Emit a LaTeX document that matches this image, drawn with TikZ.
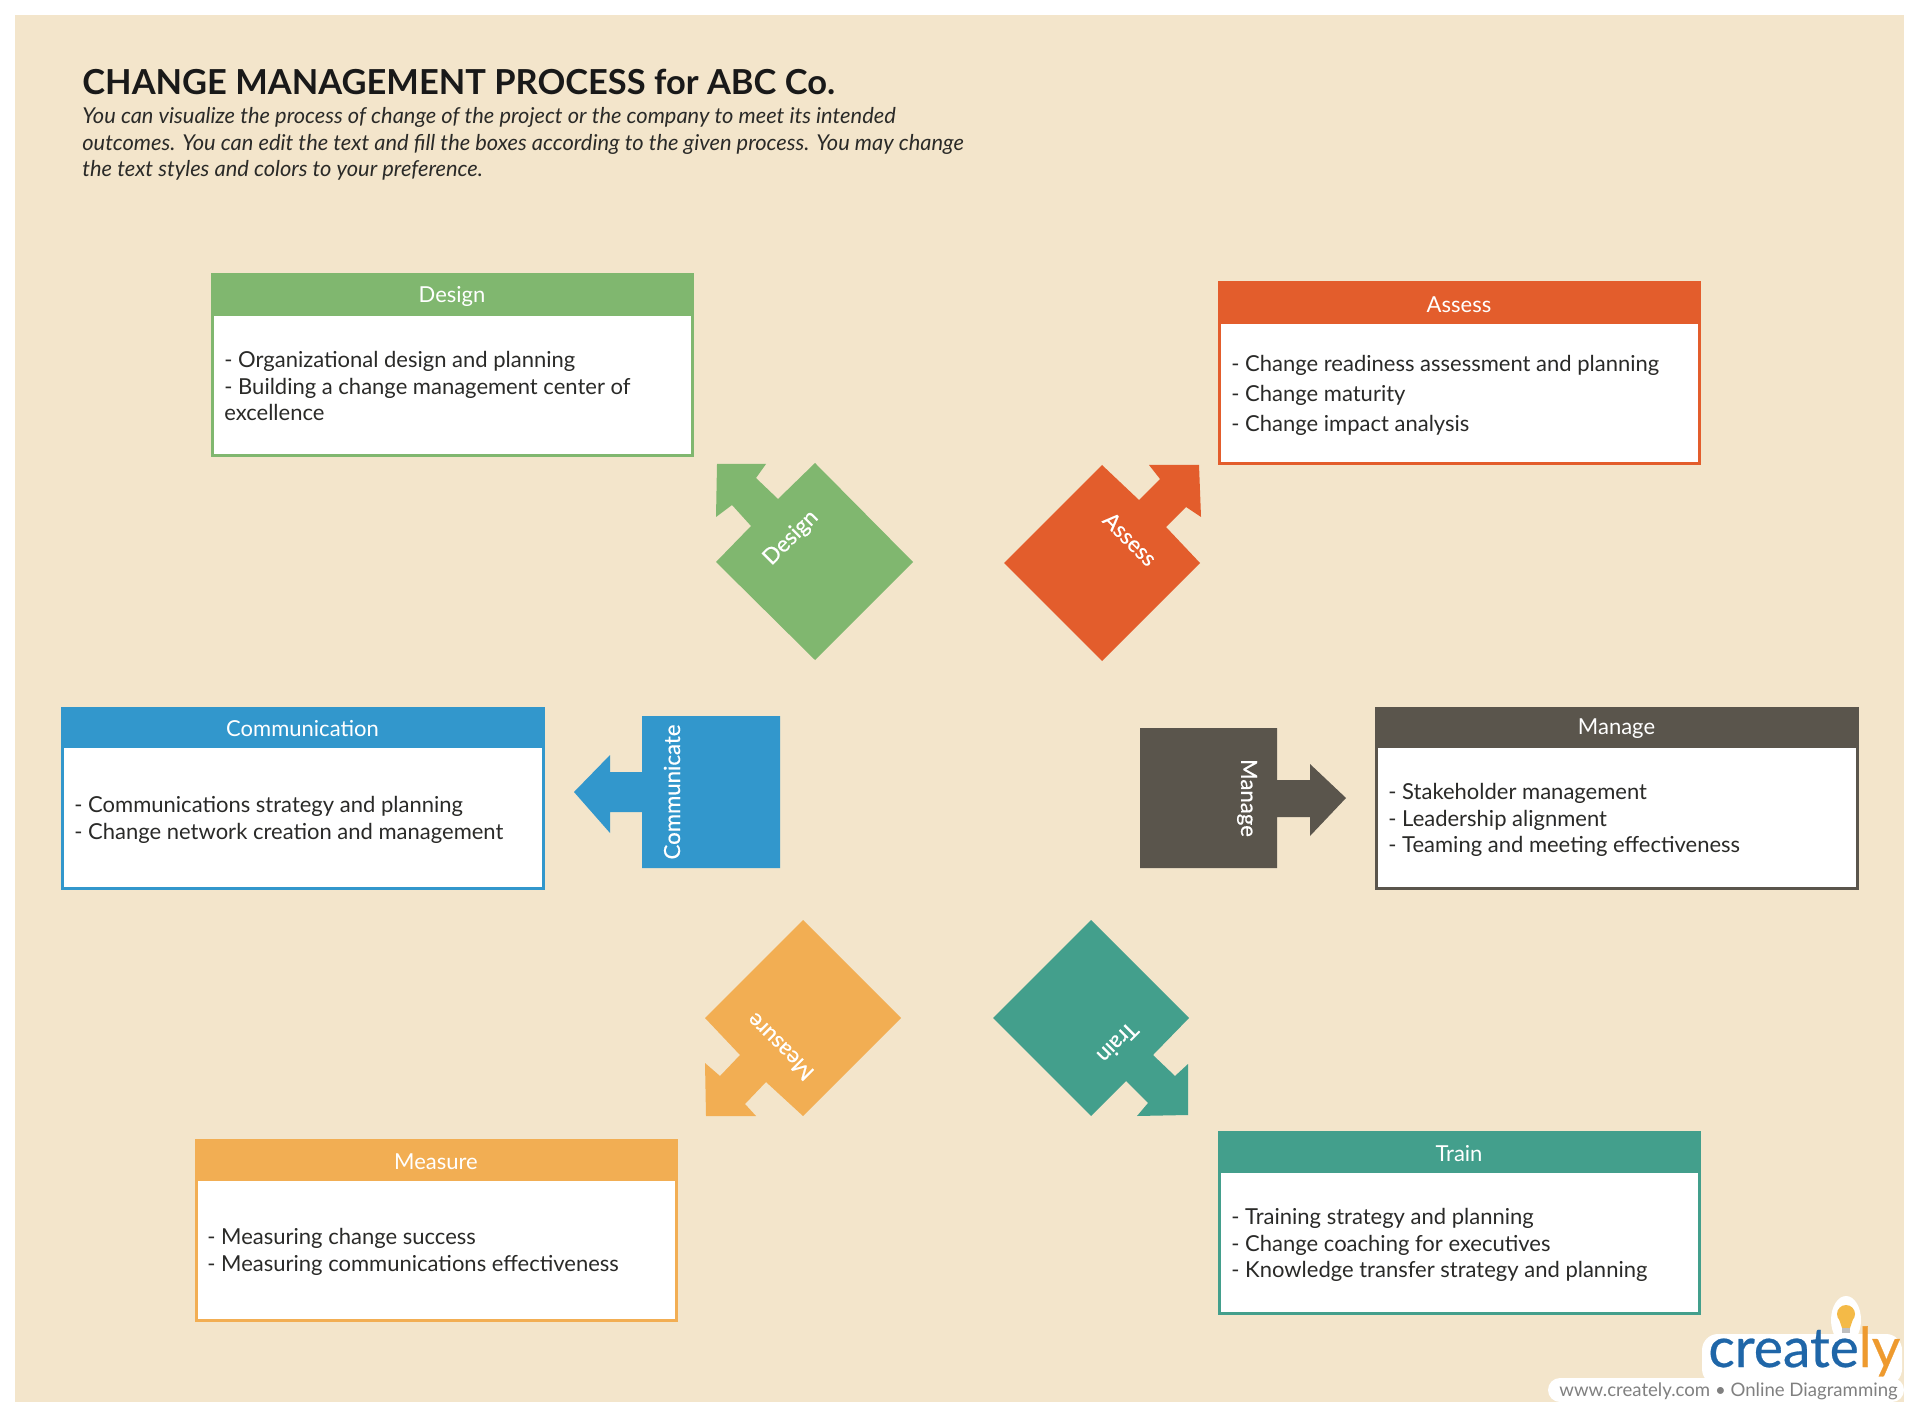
\documentclass[tikz,border=0pt]{standalone}
\usepackage{fontspec}
\setmainfont{Lato}
\newfontfamily\medfont[FakeBold=0.5]{Lato}
\definecolor{bgc}{HTML}{F3E5CB}
\definecolor{cgreen}{HTML}{80B76F}
\definecolor{corange}{HTML}{E35D2C}
\definecolor{cblue}{HTML}{3297CC}
\definecolor{cgray}{HTML}{5A554C}
\definecolor{cyellow}{HTML}{F2AE53}
\definecolor{cteal}{HTML}{439F8C}
\definecolor{inkc}{HTML}{2A2A28}
\definecolor{logob}{HTML}{1F66A8}
\definecolor{logoo}{HTML}{EE9A2E}
\tikzset{
  x=0.5pt,y=-0.5pt,
  panel/.style={draw=#1,line width=1.5pt,fill=white},
  headtext/.style={text=white,font=\fontsize{11}{13}\selectfont,inner sep=0pt},
  bodytext/.style={text=inkc,font=\fontsize{11}{13.4}\selectfont,align=left,anchor=west,inner sep=0pt},
  bodywide/.style={text=inkc,font=\fontsize{11}{15}\selectfont,align=left,anchor=west,inner sep=0pt},
  shapetext/.style={text=white,font=\medfont\fontsize{11.1}{13}\selectfont,inner sep=0pt},
}
\newcommand{\procbox}[8]{% name, color, x1,y1,x2,y2,header bottom,title
  \draw[panel=#2] (#3,#4) rectangle (#5,#6);
  \fill[#2] (#3-1.5,#4-1.5) rectangle (#5+1.5,#7);
  \node[headtext] (#1) at ({(#3+#5)/2},{(#4+#7)/2+1}) {#8};
}
\begin{document}
\begin{tikzpicture}
\useasboundingbox (0,0) rectangle (1920,1416);
\fill[white] (0,0) rectangle (1920,1416);
\fill[bgc] (15,15) rectangle (1904,1402);

\node[anchor=west,inner sep=0pt,text=black!90,font=\bfseries\fontsize{17.22}{20}\selectfont] (title) at (82,82) {CHANGE MANAGEMENT PROCESS for ABC Co.};
\node[anchor=north west,inner sep=0pt,align=left,text=inkc,font=\itshape\fontsize{10.93}{13.3}\selectfont] (subtitle) at (82,107) {You can visualize the process of change of the project or the company to meet its intended\\outcomes. You can edit the text and fill the boxes according to the given process. You may change\\the text styles and colors to your preference.};

\procbox{hdesign}{cgreen}{212}{275}{692}{456}{316}{Design}
\node[bodytext] (bdesign) at (224,386) {- Organizational design and planning\\- Building a change management center of\\excellence};
\procbox{hassess}{corange}{1219}{283}{1699}{464}{324}{Assess}
\node[bodywide] (bassess) at (1231,395) {- Change readiness assessment and planning\\- Change maturity\\- Change impact analysis};
\procbox{hcomm}{cblue}{62}{708}{543}{888}{748}{Communication}
\node[bodytext] (bcomm) at (74,817+3) {- Communications strategy and planning\\- Change network creation and management};
\procbox{hmanage}{cgray}{1376}{708}{1857}{888}{748}{Manage}
\node[bodytext] (bmanage) at (1388,818+2) {- Stakeholder management\\- Leadership alignment\\- Teaming and meeting effectiveness};
\procbox{hmeasure}{cyellow}{196}{1140}{676}{1320}{1181}{Measure}
\node[bodytext] (bmeasure) at (207,1250+2) {- Measuring change success\\- Measuring communications effectiveness};
\procbox{htrain}{cteal}{1219}{1132}{1699}{1313}{1173}{Train}
\node[bodytext] (btrain) at (1231,1243+2) {- Training strategy and planning\\- Change coaching for executives\\- Knowledge transfer strategy and planning};

% Design
\fill[cgreen] (815,463)--(913,562)--(815,660)--(716,562)--(751,526)--(732,505)--(716,517)--(717,464)--(766,464)--(756,478)--(778,499)--cycle;
\node[shapetext,rotate=45] (sdesign) at (791,538) {Design};
% Assess
\fill[corange] (1102,465)--(1139,500)--(1160,479)--(1149,465)--(1199,465)--(1201,517)--(1186,507)--(1166,527)--(1200,563)--(1102,661)--(1004,563)--cycle;
\node[shapetext,rotate=-45] (sassess) at (1130,539) {Assess};
% Communicate
\fill[cblue] (642,716)--(780,716)--(780,868)--(642,868)--(642,812)--(610,812)--(610,833)--(574,792)--(610,755)--(610,772)--(642,772)--cycle;
\node[shapetext,rotate=90] (scomm) at (672,792) {Communicate};
% Manage
\fill[cgray] (1140,728)--(1277,728)--(1277,780)--(1310,780)--(1310,764)--(1346,798)--(1310,836)--(1310,817)--(1277,817)--(1277,868)--(1140,868)--cycle;
\node[shapetext,rotate=-90] (smanage) at (1247,798) {Manage};
% Measure
\fill[cyellow] (803,920)--(901,1018)--(803,1116)--(766,1082)--(745,1104)--(756,1116)--(706,1116)--(705,1063)--(720,1076)--(740,1055)--(705,1018)--cycle;
\node[shapetext,rotate=135] (smeasure) at (780,1047) {Measure};
% Train
\fill[cteal] (1091,920)--(1189,1018)--(1153,1055)--(1175,1076)--(1188,1064)--(1188,1115)--(1137,1116)--(1148,1103)--(1126,1081)--(1091,1116)--(993,1018)--cycle;
\node[shapetext,rotate=225] (strain) at (1118,1043) {Train};

% logo
\fill[white,rounded corners=6pt] (1548,1378) rectangle (1904,1402);
\fill[white,rounded corners=8pt] (1702,1334) rectangle (1902,1385);
\fill[white] (1846,1320) ellipse[x radius=15,y radius=24];
\fill[cyellow!85!yellow] (1846,1314) circle[radius=9];
\fill[cyellow!85!yellow] (1839,1319)--(1853,1319)--(1850,1328)--(1842,1328)--cycle;
\fill[gray!50] (1842,1328) rectangle (1850,1333);
\node[anchor=base west,inner sep=0pt,font=\medfont\fontsize{27.6}{32}\selectfont] (logo) at (1708,1367) {\textcolor{logob}{create}\textcolor{logoo}{ly}};
\node[anchor=base west,inner sep=0pt,text=gray,font=\fontsize{9.3}{11}\selectfont] (url) at (1559,1396) {www.creately.com • Online Diagramming};
\end{tikzpicture}
\end{document}
